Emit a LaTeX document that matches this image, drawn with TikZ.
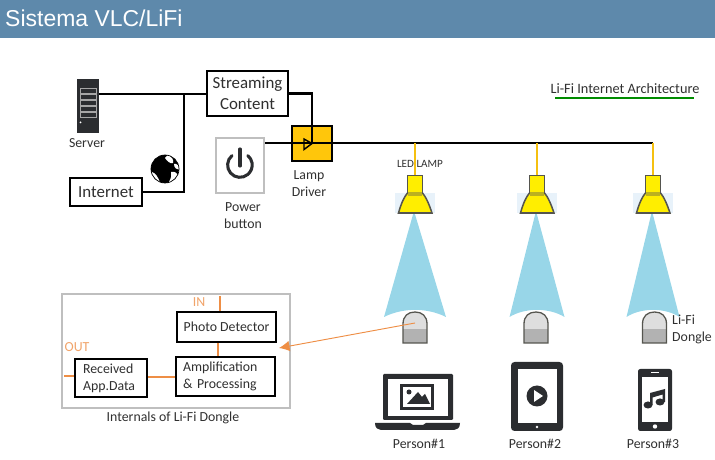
\documentclass[tikz,border=0pt]{standalone}
\usepackage{fontspec}
\setmainfont{Carlito}
\newfontfamily\headfont{Liberation Sans}
\usetikzlibrary{arrows.meta, positioning}
\definecolor{headblue}{HTML}{5E89AB}
\definecolor{driverfill}{HTML}{FFC60B}
\definecolor{beamblue}{HTML}{98D6E8}
\definecolor{halo}{HTML}{E8F2FA}
\definecolor{lampyellow}{HTML}{FFEE00}
\definecolor{cordyellow}{HTML}{F5C010}
\definecolor{lampedge}{HTML}{55554F}
\definecolor{inorange}{HTML}{EE8E45}
\definecolor{inktext}{HTML}{303030}
\definecolor{device}{HTML}{2B2D30}
\def\px{0.03cm}
\tikzset{
  blackbox/.style={draw=black, line width=2.1pt, fill=white, inner sep=0pt, text=inktext, align=center},
  graybox/.style={draw=black!25, line width=2.2pt, fill=white, inner sep=0pt},
  wire/.style={draw=black, line width=1.8pt},
  cord/.style={draw=cordyellow, line width=1.9pt},
  orangewire/.style={draw=inorange, line width=2.2pt},
  bigtext/.style={font=\fontsize{14.4}{18}\selectfont, text=inktext},
  smalltext/.style={font=\fontsize{11.8}{14.5}\selectfont, text=inktext, align=center},
  orangetext/.style={font=\fontsize{11.8}{14}\selectfont, text=inorange!80!white}
}
\begin{document}
\begin{tikzpicture}[x=\px, y=-\px]
    \useasboundingbox (0,0) rectangle (715,460);

    % Header band
    \fill[headblue] (0,0) rectangle (715,38);
    \node[anchor=west, inner sep=0pt, text=white, font=\headfont\fontsize{19.6}{22}\selectfont] (title) at (5,18) {Sistema VLC/LiFi};

    % Diagram title with the green line
    \node[smalltext, font=\fontsize{12.2}{14.5}\selectfont] (archtitle) at (625,89) {Li-Fi Internet Architecture};
    \draw[draw=green!55!black, line width=1.7pt] (555,98) -- (694,98);

    % Server
    \node[fill=device, minimum width=22*\px, minimum height=54*\px, inner sep=0pt] (server) at (88,106) {};
    \foreach \y in {88,94,100,106,112} {
      \draw[white!65!black, line width=0.5pt] (80,\y) rectangle (96,\y+5);
    }
    \fill[white] (80.5,122.5) circle (1);
    \node[smalltext] (serverlabel) at (87,143) {Server};

    % Boxes on the upper left
    \node[blackbox, bigtext, minimum width=81*\px, minimum height=45*\px] (stream) at (247.5,93.5) {Streaming\\Content};
    \node[blackbox, bigtext, minimum width=72*\px, minimum height=28*\px] (internet) at (106,192) {Internet};
    \node[graybox, minimum width=48*\px, minimum height=55*\px] (power) at (240,165.5) {};
    \node[smalltext] (powerlabel) at (243,215.5) {Power\\button};
    \node[draw=black, line width=1.2pt, fill=driverfill, minimum width=40*\px, minimum height=35*\px, inner sep=0pt] (driver) at (312,143.5) {};
    \node[smalltext] (driverlabel) at (309,184) {Lamp\\Driver};

    % Power symbol
    \draw[device, line width=2.6pt, line cap=round] (232,155.6) arc (-130:-410:12.3);
    \draw[device, line width=2.6pt, line cap=round] (240,149) -- (240,166);

    % Globe
    \begin{scope}
      \clip (165,169) circle (14);
      \fill[black] (165,169) circle (14);
      \fill[white] (168,155) .. controls (172,157) and (174,160) .. (173,163) .. controls (170,164) and (167,161) .. (165,158) -- cycle;
      \fill[white] (174,164) .. controls (177,163) and (179,166) .. (180,170) .. controls (177,170) and (174,168) .. (174,164) -- cycle;
      \fill[white] (171,172) .. controls (175,171) and (177,173) .. (178,176) .. controls (176,180) and (172,183) .. (169,182) .. controls (171,178) and (172,175) .. (171,172) -- cycle;
      \fill[white] (152,172) .. controls (155,173) and (158,176) .. (160,183) -- (152,183) -- cycle;
    \end{scope}
    \draw[black, line width=0.6pt] (165,169) circle (14);

    % Wires on the upper left
    \coordinate (junction) at (184,94);
    \coordinate (bus) at (653,143);
    \coordinate (amptip) at (312,143.5);
    \draw[wire] (server.east |- junction) -- (stream.west |- junction);
    \draw[wire] (internet.east) -| (junction);
    \draw[wire] (stream.east) -| (amptip);
    \draw[wire, line width=2.3pt] (power.east |- bus) -- (bus);
    \draw[draw=black, line width=1.2pt] (304,139) -- (amptip) -- (304,149.5) -- cycle;

    % Lamps, light beams and dongles
    \foreach \n/\x/\w/\d in {1/415/31/415, 2/537/27.5/536, 3/653/26.5/654.5} {
      \coordinate (tap\n) at (\x,143);
      \fill[halo] (\x-20,193) rectangle (\x+20,213);
      \fill[beamblue] (\x-1,211) -- (\x+\w,317) .. controls (\x+12,307.5) and (\x-12,307.5) .. (\x-\w,317) -- cycle;
      \path[draw=lampedge, line width=1.3pt, fill=lampyellow] (\x-7.5,193) .. controls (\x-11,197) and (\x-14,204) .. (\x-16.5,213) -- (\x+17,213) .. controls (\x+14,204) and (\x+11,197) .. (\x+7.5,193) -- cycle;
      \node[draw=lampedge, line width=1.3pt, fill=lampyellow, minimum width=15*\px, minimum height=17*\px, inner sep=0pt] (neck\n) at (\x,184) {};
      \fill[lampedge!40!lampyellow] (\x-7,192) rectangle (\x+7,196);
      \draw[cord] (tap\n) -- (neck\n.north);
      % dongle
      \fill[black!13] (\d-12,329) -- (\d-12,324) .. controls (\d-12,316) and (\d-7,312) .. (\d,312) .. controls (\d+7,312) and (\d+12,316) .. (\d+12,324) -- (\d+12,329) -- cycle;
      \fill[black!30] (\d-12,329) rectangle (\d+12,343);
      \draw[draw=lampedge, line width=1.1pt] (\d-12,343) -- (\d-12,324) .. controls (\d-12,316) and (\d-7,312) .. (\d,312) .. controls (\d+7,312) and (\d+12,316) .. (\d+12,324) -- (\d+12,343) -- cycle;
      \coordinate (dongle\n) at (\d,323);
    }
    \node[font=\fontsize{9.5}{11}\selectfont, text=inktext] (ledlabel) at (420,164) {LED LAMP};
    \node[smalltext, align=left, anchor=west, inner sep=0pt] (donglelabel) at (672,329.5) {Li-Fi\\Dongle};

    % Laptop
    \fill[device, rounded corners=1] (383,374) rectangle (453,420);
    \fill[white] (388,379) rectangle (448,416);
    \fill[device] (400,384) rectangle (434,410);
    \fill[white] (403,387) rectangle (431,407);
    \fill[device] (407,404) -- (418,392) -- (422,397) -- (425,394) -- (430,404) -- cycle;
    \fill[device] (409,392) circle (2.5);
    \fill[device] (375,423) -- (410,423) -- (413,425) -- (423,425) -- (426,423) -- (460,423) .. controls (460,428) and (457,430) .. (454,430) -- (381,430) .. controls (378,430) and (375,428) .. (375,423) -- cycle;
    \node[smalltext] (person1) at (419,444) {Person\#1};

    % Tablet
    \fill[device, rounded corners=3] (511,362) rectangle (563,431);
    \fill[white] (518,369) rectangle (557,423);
    \fill[white] (537,427) circle (1.3);
    \fill[device] (537,396) circle (10.5);
    \fill[white] (534,390) -- (543,396) -- (534,402) -- cycle;
    \node[smalltext] (person2) at (535,444) {Person\#2};

    % Phone
    \fill[device, rounded corners=2] (638,369) rectangle (672,431);
    \fill[white] (642,377) rectangle (668,422);
    \fill[white] (655,426.5) circle (2.2);
    \draw[white, line width=0.8pt] (651,372.5) -- (659,372.5);
    \fill[device] (648,405) ellipse (4.5 and 3.5);
    \fill[device] (660,402) ellipse (4.5 and 3.5);
    \fill[device] (650,405) -- (650,393) -- (665,389) -- (665,402) -- (662.5,402) -- (662.5,394.5) -- (652.5,397.5) -- (652.5,405) -- cycle;
    \node[smalltext] (person3) at (653,444) {Person\#3};

    % Internals of the dongle
    \node[graybox, minimum width=228*\px, minimum height=114*\px] (panel) at (176,351) {};
    \node[blackbox, smalltext, minimum width=99*\px, minimum height=30*\px] (photo) at (226.5,327) {Photo Detector};
    \node[blackbox, smalltext, align=left, minimum width=99*\px, minimum height=39*\px, text width=85*\px] (amp) at (225.5,376.5) {Amplification\\\&~Processing};
    \node[blackbox, smalltext, align=left, minimum width=72*\px, minimum height=38*\px, text width=56*\px] (received) at (111,378) {Received\\App.Data};
    \node[orangetext] (inlabel) at (199,302) {IN};
    \node[orangetext] (outlabel) at (77,347) {OUT};
    \node[smalltext] (internals) at (173,418) {Internals of Li-Fi Dongle};
    \coordinate (panelin) at (220,296);
    \coordinate (panelout) at (64,376);
    \coordinate (arrowend) at (279,348);
    \draw[orangewire] (panelin) -- (panelin |- photo.north);
    \draw[orangewire] (photo.south -| 218,0) -- (amp.north -| 218,0);
    \draw[orangewire] (received.east |- 0,377) -- (amp.west |- 0,377);
    \draw[orangewire] (panelout) -- (received.west |- panelout);
    \draw[draw=inorange, line width=0.8pt, -{Latex[length=9pt,width=9pt]}] (dongle1) -- (arrowend);
\end{tikzpicture}
\end{document}
